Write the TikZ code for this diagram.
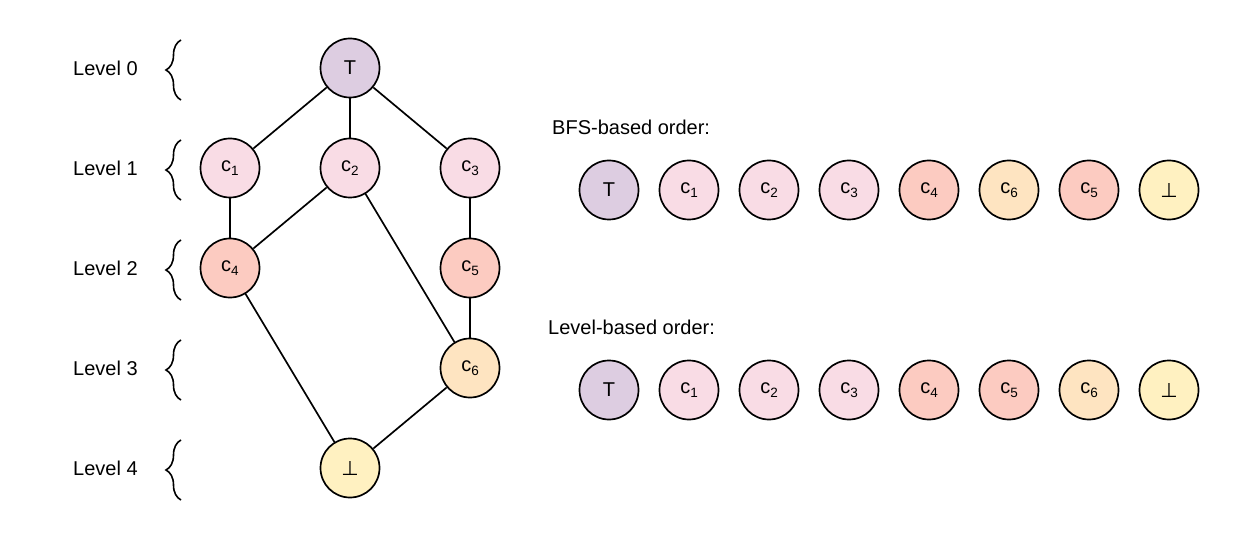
\documentclass[tikz,border=0pt]{standalone}
\usepackage{fontspec}
\setmainfont{Liberation Sans}
\newfontfamily\symfont{DejaVu Sans}
\usetikzlibrary{decorations.pathreplacing}
\definecolor{cTop}{HTML}{DDCDE1}
\definecolor{cOne}{HTML}{F9DCE5}
\definecolor{cFour}{HTML}{FCCBC1}
\definecolor{cSix}{HTML}{FEE4C1}
\definecolor{cBot}{HTML}{FFF1C1}
\newcommand{\lowsub}[1]{\raisebox{-3.5pt}{\fontsize{13.5}{13.5}\selectfont #1}}
\newcommand{\cc}[1]{c\lowsub{#1}}
\newcommand{\botsym}{{\symfont\fontsize{20}{20}\selectfont ⊥}}
\tikzset{
  vert/.style={circle, draw=black, line width=1.7pt, minimum size=59pt, inner sep=0pt, font=\fontsize{20}{20}\selectfont},
  edge/.style={line width=1.7pt},
  lbl/.style={font=\fontsize{20}{24}\selectfont, anchor=west, inner sep=0pt},
  lvbrace/.style={decorate, decoration={brace, amplitude=15pt}, line width=1.6pt}
}
\begin{document}
\begin{tikzpicture}[x=1pt,y=-1pt]
\useasboundingbox (0,0) rectangle (1240,540);
% graph
\node[vert, fill=cTop]  (t)  at (350,68)  {T};
\node[vert, fill=cOne]  (c1) at (230,168) {\cc1};
\node[vert, fill=cOne]  (c2) at (350,168) {\cc2};
\node[vert, fill=cOne]  (c3) at (470,168) {\cc3};
\node[vert, fill=cFour] (c4) at (230,268) {\cc4};
\node[vert, fill=cFour] (c5) at (470,268) {\cc5};
\node[vert, fill=cSix]  (c6) at (470,368) {\cc6};
\node[vert, fill=cBot]  (b)  at (350,468) {\botsym};
\draw[edge] (t) -- (c1);
\draw[edge] (t) -- (c2);
\draw[edge] (t) -- (c3);
\draw[edge] (c1) -- (c4);
\draw[edge] (c2) -- (c4);
\draw[edge] (c2) -- (c6);
\draw[edge] (c3) -- (c5);
\draw[edge] (c5) -- (c6);
\draw[edge] (c4) -- (b);
\draw[edge] (c6) -- (b);
% levels
\foreach \i in {0,...,4}{
  \node[lbl] (lv\i) at (73,{68+100*\i}) {Level \i};
  \coordinate (bt\i) at (181,{100+100*\i});
  \coordinate (bb\i) at (181,{40+100*\i});
  \draw[lvbrace] (bt\i) -- (bb\i);
}
% BFS order
\node[lbl] (bfs) at (552,127) {BFS-based order:};
\node[vert, fill=cTop]  (p1) at (609,190)  {T};
\node[vert, fill=cOne]  (p2) at (689,190)  {\cc1};
\node[vert, fill=cOne]  (p3) at (769,190)  {\cc2};
\node[vert, fill=cOne]  (p4) at (849,190)  {\cc3};
\node[vert, fill=cFour] (p5) at (929,190)  {\cc4};
\node[vert, fill=cSix]  (p6) at (1009,190) {\cc6};
\node[vert, fill=cFour] (p7) at (1089,190) {\cc5};
\node[vert, fill=cBot]  (p8) at (1169,190) {\botsym};
% Level order
\node[lbl] (lvo) at (548,327) {Level-based order:};
\node[vert, fill=cTop]  (q1) at (609,390)  {T};
\node[vert, fill=cOne]  (q2) at (689,390)  {\cc1};
\node[vert, fill=cOne]  (q3) at (769,390)  {\cc2};
\node[vert, fill=cOne]  (q4) at (849,390)  {\cc3};
\node[vert, fill=cFour] (q5) at (929,390)  {\cc4};
\node[vert, fill=cFour] (q6) at (1009,390) {\cc5};
\node[vert, fill=cSix]  (q7) at (1089,390) {\cc6};
\node[vert, fill=cBot]  (q8) at (1169,390) {\botsym};
\end{tikzpicture}
\end{document}
